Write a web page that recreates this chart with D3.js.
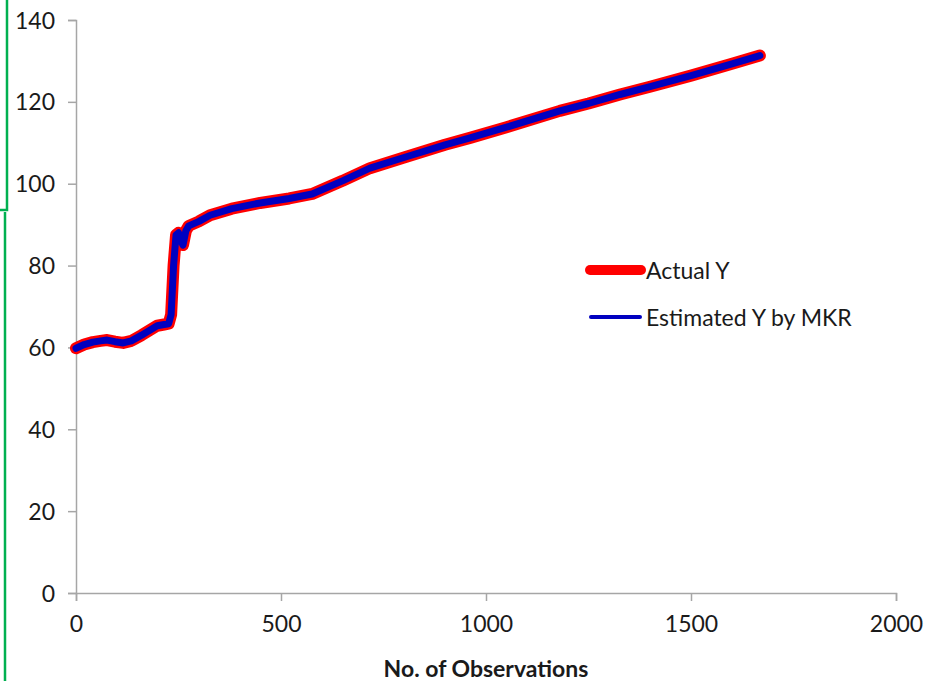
<!DOCTYPE html>
<html>
<head>
<meta charset="utf-8">
<script src="https://cdn.jsdelivr.net/npm/d3@7"></script>
<style>
  html, body { margin: 0; padding: 0; background: #fff; }
  svg { display: block; }
</style>
</head>
<body>
<svg id="chart" width="930" height="681"></svg>
<script>
// Observation index and the two series plotted against it
const observations = [0, 20, 41, 60, 76, 95, 115, 135, 160, 198, 215, 226, 232, 238, 244, 250, 256, 261, 268, 275, 300, 327, 380, 449, 520, 576, 650, 717, 800, 900, 961, 1050, 1180, 1250, 1327, 1400, 1500, 1600, 1668];
const actualY = [59.8, 60.7, 61.3, 61.6, 61.8, 61.4, 61.1, 61.6, 63.0, 65.3, 65.6, 65.8, 68.0, 80.0, 87.5, 88.0, 86.0, 85.0, 88.5, 89.7, 90.8, 92.3, 93.9, 95.3, 96.4, 97.5, 100.7, 103.8, 106.4, 109.5, 111.2, 113.8, 117.8, 119.6, 121.8, 123.7, 126.4, 129.3, 131.3];
const estimatedY = [59.8, 60.7, 61.3, 61.6, 61.8, 61.4, 61.1, 61.6, 63.0, 65.3, 65.6, 65.8, 68.0, 80.0, 87.5, 88.0, 86.0, 85.0, 88.5, 89.7, 90.8, 92.3, 93.9, 95.3, 96.4, 97.5, 100.7, 103.8, 106.4, 109.5, 111.2, 113.8, 117.8, 119.6, 121.8, 123.7, 126.4, 129.3, 131.3];
const xTicks = [0, 500, 1000, 1500, 2000];
const yTicks = [0, 20, 40, 60, 80, 100, 120, 140];
const seriesNames = ["Actual Y", "Estimated Y by MKR"];
const xTitle = "No. of Observations";

const svg = d3.select("#chart");
const font = "Lato, 'Open Sans', sans-serif";

const x = d3.scaleLinear().domain([0, 2000]).range([76, 896]);
const y = d3.scaleLinear().domain([0, 140]).range([593, 20]);

// Green frame marks on the far left
svg.append("path")
  .attr("d", "M7,0 L7,210 L0,210")
  .attr("fill", "none").attr("stroke", "#00b050").attr("stroke-width", 2.5);
svg.append("line")
  .attr("x1", 5).attr("x2", 5).attr("y1", 212).attr("y2", 681)
  .attr("stroke", "#00b050").attr("stroke-width", 2.5);

// Axes
const axisColor = "#a6a6a6";
const gx = svg.append("g").attr("transform", `translate(0,${y(0)})`)
  .call(d3.axisBottom(x).tickValues(xTicks).tickSize(8).tickPadding(10).tickFormat(d3.format("d")));
const gy = svg.append("g").attr("transform", `translate(${x(0)},0)`)
  .call(d3.axisLeft(y).tickValues(yTicks).tickSize(8).tickPadding(13).tickFormat(d3.format("d")));
[gx, gy].forEach(g => {
  g.select(".domain").attr("stroke", axisColor).attr("stroke-width", 1.5);
  g.selectAll(".tick line").attr("stroke", axisColor).attr("stroke-width", 1.5);
  g.selectAll(".tick text").attr("fill", "#1a1a1a").style("font-family", font).style("font-size", "23px");
});
gx.selectAll(".tick text").attr("dy", "0.9em");
gy.selectAll(".tick text").attr("dy", "0.35em");

// Series lines
const line = d3.line().x(d => x(d[0])).y(d => y(d[1]));
const actualPts = observations.map((o, i) => [o, actualY[i]]);
const estPts = observations.map((o, i) => [o, estimatedY[i]]);

svg.append("defs").append("filter").attr("id", "soft")
  .append("feGaussianBlur").attr("stdDeviation", 0.6);

svg.append("path").datum(actualPts)
  .attr("d", line).attr("fill", "none")
  .attr("stroke", "#ff0000").attr("stroke-width", 12)
  .attr("stroke-linejoin", "round").attr("stroke-linecap", "round")
  .attr("filter", "url(#soft)");
svg.append("path").datum(estPts)
  .attr("d", line).attr("fill", "none")
  .attr("stroke", "#0000c0").attr("stroke-width", 7)
  .attr("stroke-linejoin", "round").attr("stroke-linecap", "round");

// Legend
const legend = svg.append("g");
legend.append("line").attr("x1", 590).attr("x2", 641).attr("y1", 270).attr("y2", 270)
  .attr("stroke", "#ff0000").attr("stroke-width", 10).attr("stroke-linecap", "round");
legend.append("line").attr("x1", 591).attr("x2", 640).attr("y1", 317).attr("y2", 317)
  .attr("stroke", "#0000c0").attr("stroke-width", 4).attr("stroke-linecap", "round");
legend.selectAll("text.lg").data(seriesNames).join("text")
  .attr("class", "lg")
  .attr("x", 646).attr("y", (d, i) => 279 + i * 47)
  .attr("fill", "#1a1a1a").style("font-family", font).style("font-size", "23px")
  .text(d => d);

// Axis title
svg.append("text")
  .attr("x", (x(0) + x(2000)) / 2).attr("y", 677)
  .attr("text-anchor", "middle")
  .attr("fill", "#1a1a1a").style("font-family", font).style("font-size", "23px").style("font-weight", "bold")
  .text(xTitle);
</script>
</body>
</html>
